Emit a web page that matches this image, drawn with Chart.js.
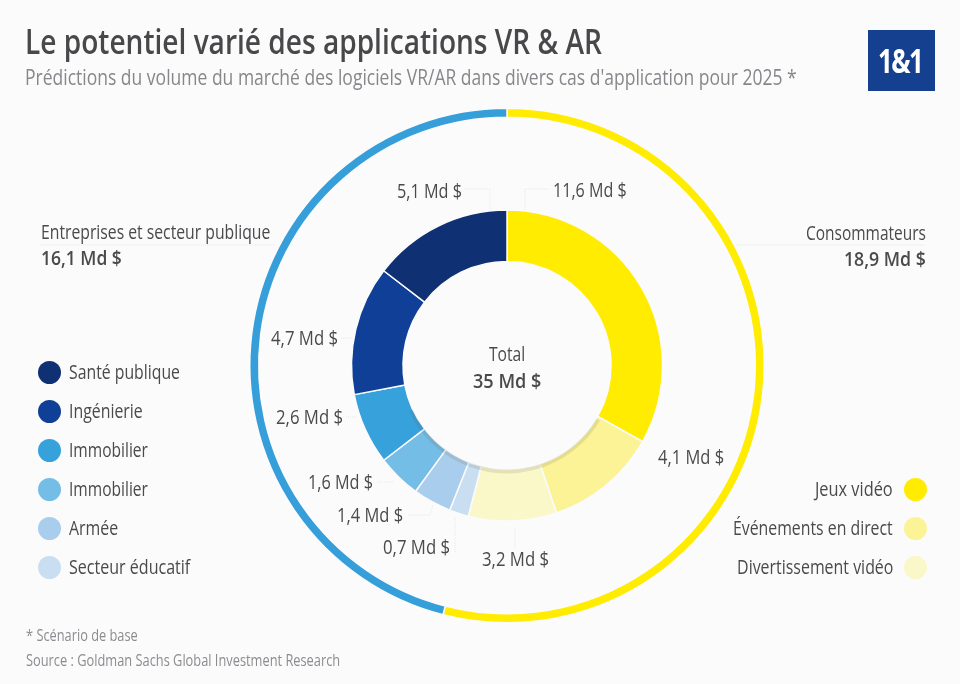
<!DOCTYPE html>
<html lang="fr">
<head>
    <meta charset="UTF-8">
    <title>Le potentiel varié des applications VR & AR</title>
    <script src="https://cdn.jsdelivr.net/npm/chart.js"></script>
    <style>
        * { box-sizing: border-box; }
        body { margin: 0; background: #fbfbfc; font-family: 'Open Sans', sans-serif; color: #4a4a4c; }
        #page { position: relative; width: 960px; height: 684px; overflow: hidden; }
        #chart { position: absolute; left: 0; top: 0; }
        #leaders { position: absolute; left: 0; top: 0; }
        #leaders polyline { fill: none; stroke: #e6e7e8; stroke-width: 1; stroke-dasharray: 1 1; }
        .t { position: absolute; white-space: nowrap; line-height: 1; transform-origin: left center; }
        .t.right { transform-origin: right center; }
        #title { left: 25px; top: 24px; font-size: 34px; font-weight: 600; color: #48484a; }
        #subtitle { left: 25px; top: 65px; font-size: 22px; color: #85878a; }
        #logo { position: absolute; left: 868px; top: 30px; width: 67px; height: 61px; background: #14408f; }
        #logoText { left: 10px; top: 13px; font-size: 34px; font-weight: 700; color: #fff; letter-spacing: -2px; }
        .val { font-size: 20px; }
        .leg { font-size: 19.5px; }
        .bold { font-weight: 600; font-size: 20.5px; }
        .note { font-size: 16px; color: #8a8c8f; }
        .dot { position: absolute; width: 23px; height: 23px; border-radius: 50%; }
    </style>
</head>
<body>
    <div id="page">
        <canvas id="chart" width="960" height="684"></canvas>
        <svg id="leaders" width="960" height="684">
            <polyline points="465,189 490,189 490,210"/>
            <polyline points="525,210 525,189 550,189"/>
            <polyline points="736,245 926,245"/>
            <polyline points="41,245 275,245"/>
            <polyline points="341,338 352,338"/>
            <polyline points="346,417 358,417"/>
            <polyline points="378,482 393,482"/>
            <polyline points="408,515 430,515 433,505"/>
            <polyline points="455,552 455,517"/>
            <polyline points="515,547 515,527"/>
        </svg>
        <div id="title" class="t" data-w="577">Le potentiel varié des applications VR &amp; AR</div>
        <div id="subtitle" class="t" data-w="772">Prédictions du volume du marché des logiciels VR/AR dans divers cas d'application pour 2025 *</div>
        <div id="logo"><div id="logoText" class="t" data-w="44">1&amp;1</div></div>
        <div class="t note" style="left:26px;top:627px" data-w="112">* Scénario de base</div>
        <div class="t note" style="left:26px;top:652px" data-w="314">Source : Goldman Sachs Global Investment Research</div>
    </div>

    <script>
        // ordre horaire depuis le haut
        const categories = ['Jeux vidéo', 'Événements en direct', 'Divertissement vidéo', 'Secteur éducatif', 'Armée', 'Immobilier', 'Immobilier', 'Ingénierie', 'Santé publique'];
        const segmentValues = [11.6, 4.1, 3.2, 0.7, 1.4, 1.6, 2.6, 4.7, 5.1];
        const segmentColors = ['#ffec00', '#fbf396', '#faf7c8', '#c9dff1', '#a9cdec', '#74bde6', '#37a1dc', '#0f3f96', '#0f3072'];
        const groups = ['Consommateurs', 'Entreprises et secteur publique'];
        const groupValues = [18.9, 16.1];
        const groupColors = ['#ffec00', '#369fda'];
        const gapRing = [1];
        const total = 35;

        const fmt = v => String(v).replace('.', ',') + ' Md $';

        const page = document.getElementById('page');
        // la police est plus large que l'originale : on resserre chaque texte a sa largeur
        function fit(el, w) {
            el.style.transform = 'scaleX(' + (w / el.offsetWidth) + ')';
        }
        function addText(text, cls, x, y, w, align) {
            const el = document.createElement('div');
            el.className = 't ' + cls + (align === 'right' ? ' right' : '');
            el.textContent = text;
            page.appendChild(el);
            el.style.top = (y - el.offsetHeight / 2) + 'px';
            if (align === 'right') el.style.right = (960 - x) + 'px';
            else el.style.left = x + 'px';
            fit(el, w);
        }
        function addDot(color, cx, cy) {
            const el = document.createElement('div');
            el.className = 'dot';
            el.style.background = color;
            el.style.left = (cx - 11.5) + 'px';
            el.style.top = (cy - 11.5) + 'px';
            page.appendChild(el);
        }
        document.querySelectorAll('[data-w]').forEach(el => fit(el, +el.dataset.w));

        // étiquettes de valeur, même ordre que segmentValues : x, y, largeur
        const valueAnchors = [[553, 190, 74], [658, 457, 66], [482, 559, 67], [383, 547, 67], [337, 515, 66], [308, 482, 65], [276, 417, 67], [271, 338, 67], [397, 191, 65]];
        segmentValues.forEach((v, i) => addText(fmt(v), 'val', valueAnchors[i][0], valueAnchors[i][1], valueAnchors[i][2]));

        addText(groups[0], 'val', 926, 233, 120, 'right');
        addText(fmt(groupValues[0]), 'val bold', 926, 258, 82, 'right');
        addText(groups[1], 'val', 41, 232, 229);
        addText(fmt(groupValues[1]), 'val bold', 41, 257, 81);
        addText('Total', 'val', 489, 354, 36);
        addText(fmt(total), 'val bold', 473, 380, 68);

        // légende gauche (de haut en bas) et droite
        const leftWidths = [111, 74, 79, 79, 49, 121];
        [8, 7, 6, 5, 4, 3].forEach((idx, row) => {
            const y = 372 + row * 39;
            addDot(segmentColors[idx], 49, y);
            addText(categories[idx], 'leg', 69, y, leftWidths[row]);
        });
        const rightWidths = [78, 160, 156];
        [0, 1, 2].forEach((idx, row) => {
            const y = 489 + row * 39;
            addDot(segmentColors[idx], 915, y);
            addText(categories[idx], 'leg', 893, y, rightWidths[row], 'right');
        });

        // ombre fine sur le bord intérieur de l'anneau, en bas
        const innerShade = {
            id: 'innerShade',
            afterDatasetsDraw(chart) {
                const arc = chart.getDatasetMeta(2).data[0];
                const c = chart.ctx;
                c.save();
                c.beginPath();
                c.arc(arc.x, arc.y, arc.innerRadius + 2, Math.PI * 0.17, Math.PI * 0.86);
                c.lineWidth = 4;
                c.strokeStyle = 'rgba(95, 95, 70, 0.14)';
                c.stroke();
                c.restore();
            }
        };

        new Chart(document.getElementById('chart'), {
            type: 'doughnut',
            data: {
                labels: categories,
                datasets: [
                    { label: 'Groupes', data: groupValues, backgroundColor: groupColors, borderColor: '#fbfbfc', borderWidth: 1.5, weight: 9 },
                    { label: 'Espace', data: gapRing, backgroundColor: 'rgba(0,0,0,0)', borderWidth: 0, weight: 92.75 },
                    { label: 'Cas d\'application', data: segmentValues, backgroundColor: segmentColors, borderColor: '#fbfbfc', borderWidth: 1.5, weight: 51.5 }
                ]
            },
            options: {
                responsive: false,
                animation: false,
                cutout: 104,
                layout: { padding: { left: 249, right: 195, top: 107.5, bottom: 60.5 } },
                plugins: { legend: { display: false }, tooltip: { enabled: false } }
            },
            plugins: [innerShade]
        });
    </script>
</body>
</html>
